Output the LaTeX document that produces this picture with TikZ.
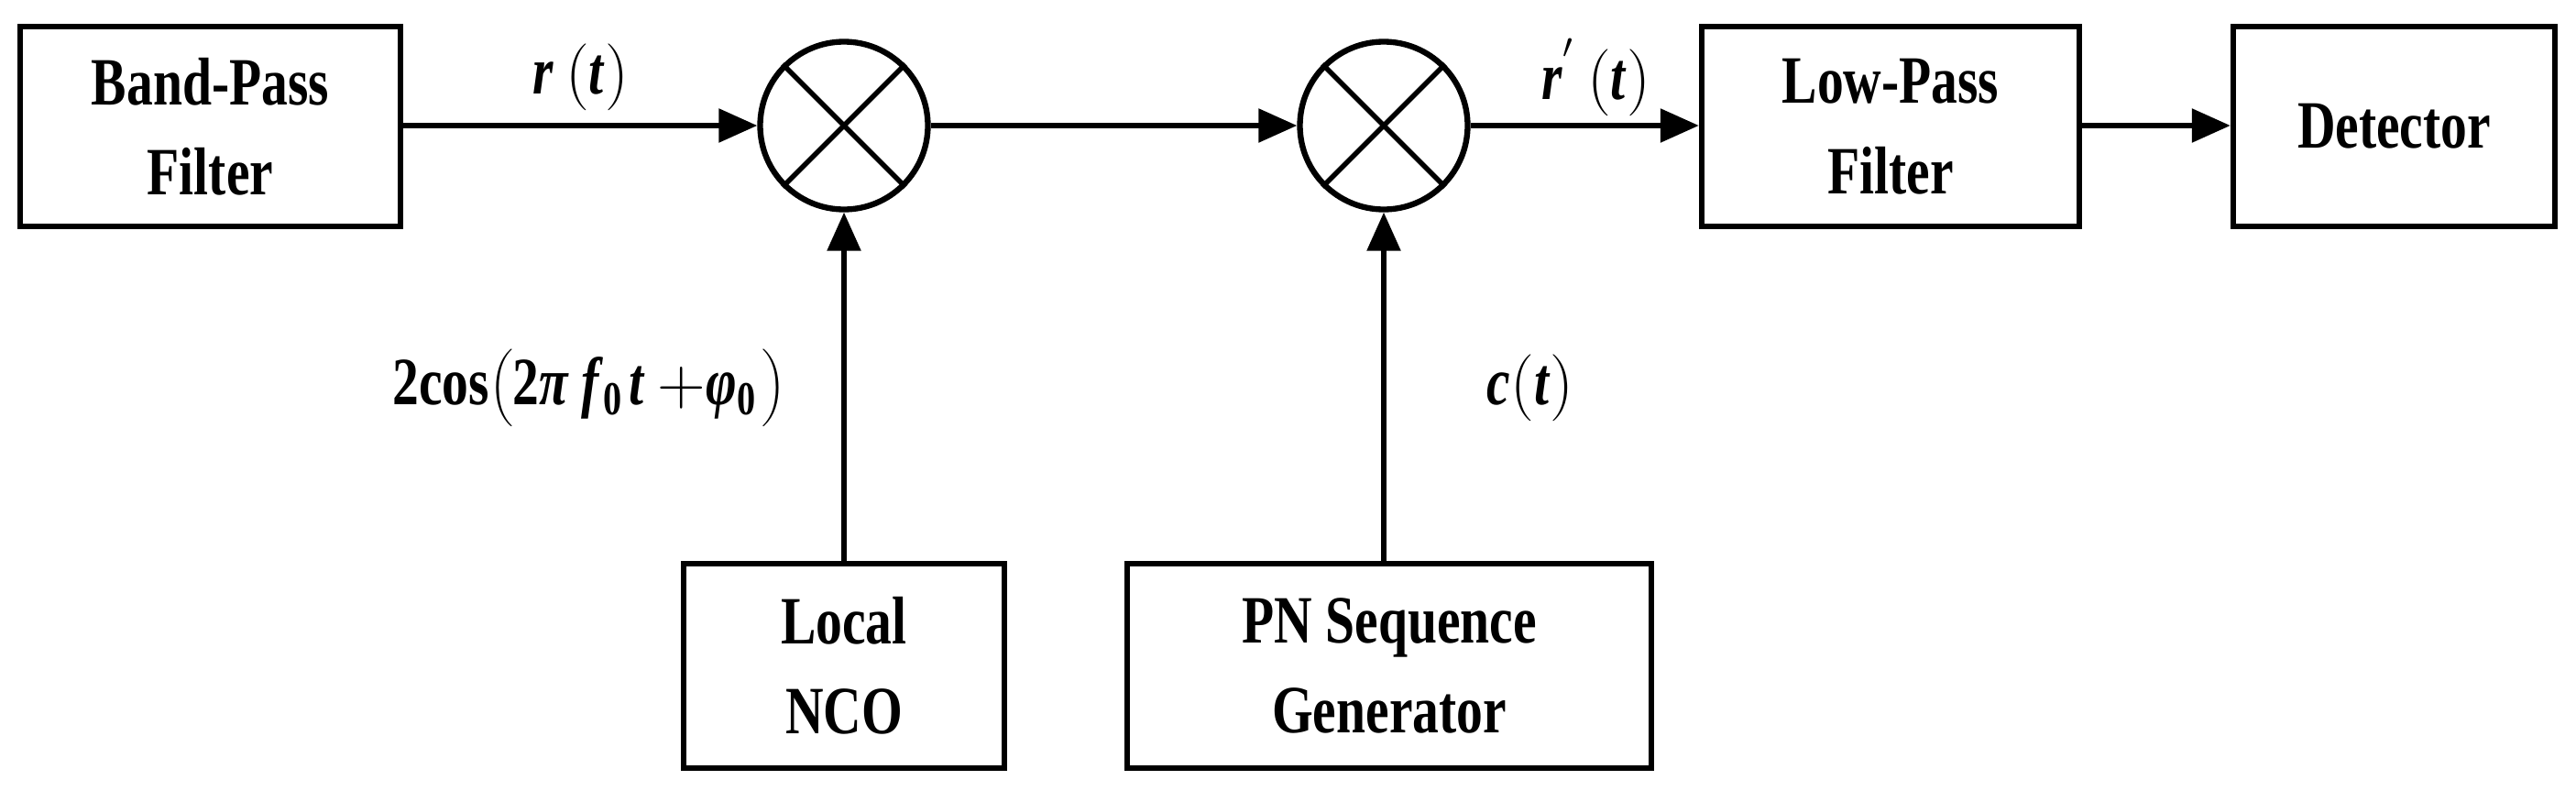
\documentclass[tikz,border=0pt]{standalone}
\usepackage{fontspec}
\setmainfont{Liberation Serif}[FakeStretch=0.78]
\usetikzlibrary{arrows.meta}
\begin{document}
\begin{tikzpicture}[
  box/.style={draw, line width=1.8pt, minimum height=2.18cm, align=center, font=\fontsize{21}{28}\selectfont\bfseries},
  mix/.style={draw, circle, line width=1.8pt, minimum size=1.83cm, inner sep=0pt},
  sig/.style={line width=1.6pt, -{Triangle[length=0.42cm,width=0.36cm]}},
  lab/.style={font=\fontsize{21}{24}\selectfont\bfseries}
]
\useasboundingbox (0,0) rectangle (28.11,8.62);
\node[box, minimum width=4.15cm] (bpf) at (2.295,7.24) {Band-Pass\\Filter};
\node[mix] (m1) at (9.21,7.25) {};
\node[mix] (m2) at (15.10,7.25) {};
\node[box, minimum width=4.12cm] (lpf) at (20.63,7.24) {Low-Pass\\Filter};
\node[box, minimum width=3.51cm] (det) at (26.125,7.24) {Detector};
\node[box, minimum width=3.5cm, minimum height=2.23cm] (nco) at (9.21,1.355) {Local\\NCO};
\node[box, minimum width=5.72cm, minimum height=2.23cm] (pn) at (15.16,1.355) {PN Sequence\\Generator};
\foreach \m in {m1,m2}{
  \draw[line width=1.6pt] (\m.45) -- (\m.225) (\m.135) -- (\m.315);
}
\draw[sig] (bpf.east |- m1) -- (m1.west);
\draw[sig] (m1.east) -- (m2.west);
\draw[sig] (m2.east) -- (lpf.west |- m2);
\draw[sig] (lpf.east |- m2) -- (det.west |- m2);
\draw[sig] (nco.north) -- (m1.south);
\draw[sig] (m2 |- pn.north) -- (m2.south);
\node[lab] (lr) at (6.34,7.78) {\textit{r}\,$\Bigl($\textit{t}$\Bigr)$};
\node[lab] (lr2) at (17.42,7.78) {\textit{r}$^{'}$\,$\Bigl($\textit{t}$\Bigr)$};
\node[lab] (lcos) at (6.43,4.39) {2cos$\Biggl($2\textit{π f}$_{\mathbf 0}$\textit{t} $+$\textit{φ}$_{\mathbf 0}\Biggr)$};
\node[lab] (lc) at (16.70,4.39) {\textit{c}$\Bigl($\textit{t}$\Bigr)$};
\end{tikzpicture}
\end{document}
